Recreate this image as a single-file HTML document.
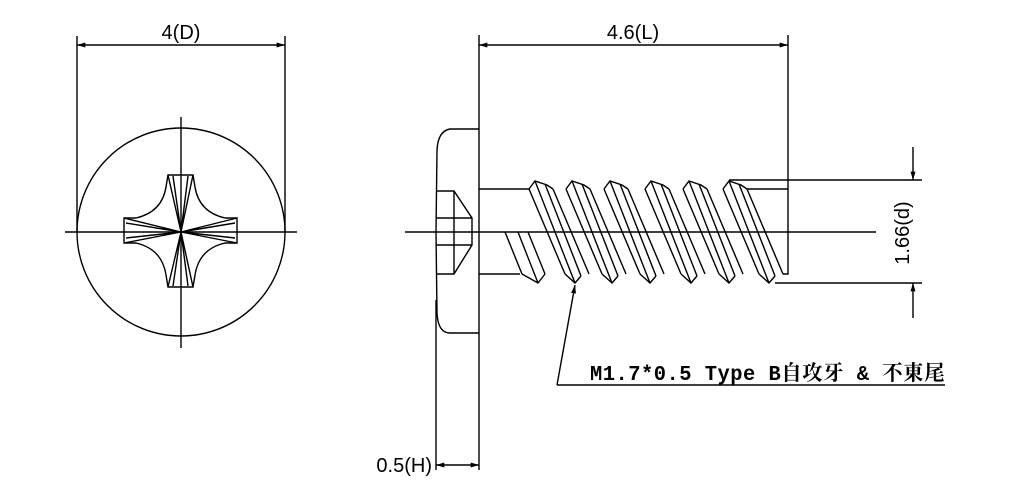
<!DOCTYPE html>
<html><head><meta charset="utf-8"><style>
html,body{margin:0;padding:0;background:#fff}
svg{display:block}
</style></head><body>
<svg width="1024" height="494" viewBox="0 0 1024 494" xmlns="http://www.w3.org/2000/svg">
<defs>
<marker id="ar" viewBox="0 0 10 6" refX="10" refY="3" markerWidth="14" markerHeight="5" markerUnits="userSpaceOnUse" orient="auto-start-reverse"><path d="M0,0 L10,3 L0,6 z" fill="#000"/></marker>
<g id="th" fill="none" stroke="#000" stroke-width="1.4">
<polyline points="-6,189 0,181 12,185 18,189"/>
<line x1="-6" y1="189" x2="30" y2="274"/>
<line x1="0" y1="181" x2="40" y2="283"/>
<line x1="10" y1="184" x2="46" y2="276"/>
<line x1="18" y1="189" x2="54" y2="274"/>
<polyline points="30,274 40,283 46,276"/>
</g>
</defs>
<g fill="none" stroke="#000" stroke-width="1.4">
<!-- left view -->
<circle cx="181" cy="232" r="104"/>
<line x1="65" y1="232" x2="297" y2="232"/>
<line x1="181" y1="117" x2="181" y2="348"/>
<line x1="77" y1="36" x2="77" y2="232"/>
<line x1="285" y1="36" x2="285" y2="232"/>
<line x1="77" y1="45" x2="285" y2="45" marker-start="url(#ar)" marker-end="url(#ar)"/>
<path d="M168,175 L193,175 L195,187 Q199,212 225,218 L237,218 L237,243 L225,243 Q199,249 195,275 L193,287 L168,287 L166,275 Q162,249 136,243 L124,243 L124,218 L136,218 Q162,212 166,187 Z"/>
<path d="M168,175 L181,232 L193,175 M173,176 L181,232 L188,176 M124,218 L181,232 L124,243 M126,223 L181,232 L126,238 M237,218 L181,232 L237,243 M235,223 L181,232 L235,238 M168,287 L181,232 L193,287 M173,286 L181,232 L188,286"/>
<!-- side view head -->
<path d="M479,129 L450,129 Q438,131 437,150 L436,232 L437,313 Q438,333 450,333 L479,333"/>
<line x1="479" y1="35" x2="479" y2="470"/>
<line x1="436" y1="300" x2="436" y2="470"/>
<path d="M436,191 L454,191 L472,218 L472,245 L454,274 L436,274 M436,218 L472,218 M436,245 L472,245 M454,191 L454,274"/>
<!-- shank -->
<path d="M479,189 L529,189 M747,189 L788,189 L788,274 L783,274 M479,274 L520,274"/>
<line x1="788" y1="35" x2="788" y2="189"/>
<line x1="479" y1="45" x2="788" y2="45" marker-start="url(#ar)" marker-end="url(#ar)"/>
<line x1="405" y1="232" x2="876" y2="232"/>
<path d="M505,232 L522,274 M518,232 L538,283 M528,232 L545,274 M522,274 L538,283 L545,274"/>
<!-- 1.66 dim -->
<line x1="729" y1="180" x2="922" y2="180"/>
<line x1="775" y1="283" x2="922" y2="283"/>
<line x1="913" y1="147" x2="913" y2="180" marker-end="url(#ar)"/>
<line x1="913" y1="318" x2="913" y2="283" marker-end="url(#ar)"/>
<!-- 0.5 dim -->
<line x1="457" y1="465" x2="436" y2="465" marker-end="url(#ar)"/>
<line x1="457" y1="465" x2="479" y2="465" marker-end="url(#ar)"/>
<!-- leader -->
<polyline points="557,385 945,385"/>
<line x1="557" y1="385" x2="575" y2="285" marker-end="url(#ar)"/>
</g>
<g stroke="#000">
<use href="#th" x="535"/>
<use href="#th" x="572"/>
<use href="#th" x="610"/>
<use href="#th" x="651"/>
<use href="#th" x="689"/>
<use href="#th" x="729"/>
</g>
<g font-family="'Liberation Sans','DejaVu Sans',sans-serif" font-size="20" fill="#000">
<text x="181" y="39" text-anchor="middle">4(D)</text>
<text x="633" y="39" text-anchor="middle">4.6(L)</text>
<text x="432" y="472" text-anchor="end">0.5(H)</text>
<text transform="translate(909,233) rotate(-90)" text-anchor="middle">1.66(d)</text>
</g>
<text x="590" y="380" font-family="'Liberation Mono','Noto Serif CJK SC',monospace" font-weight="bold" font-size="21" letter-spacing="0.5" fill="#000" textLength="355" lengthAdjust="spacingAndGlyphs">M1.7*0.5 Type B自攻牙 &amp; 不東尾</text>
</svg>
</body></html>
